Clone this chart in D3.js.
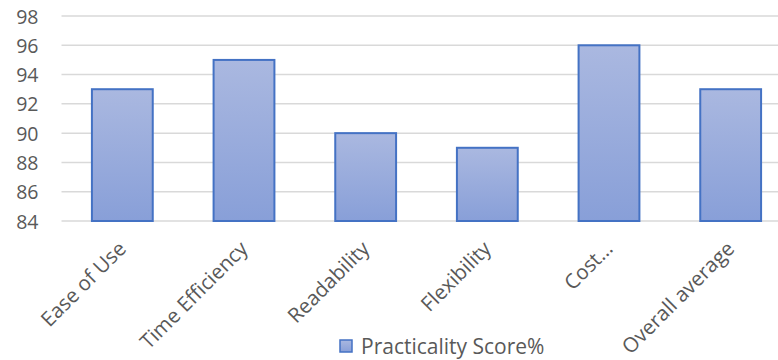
<!DOCTYPE html>
<html>
<head>
<meta charset="utf-8">
<script src="https://cdn.jsdelivr.net/npm/d3@7"></script>
<style>
  body { margin: 0; background: #fff; }
  svg text { font-family: "Open Sans", "Noto Sans", sans-serif; fill: #595959; }
</style>
</head>
<body>
<svg id="chart" width="778" height="360"></svg>
<script>
var categories = ["Ease of Use", "Time Efficiency", "Readability", "Flexibility", "Cost\u2026", "Overall average"];
var scores = [93, 95, 90, 89, 96, 93];
var yTicks = [84, 86, 88, 90, 92, 94, 96, 98];
var seriesName = "Practicality Score%";

var svg = d3.select("#chart"),
    width = +svg.attr("width"),
    height = +svg.attr("height");

var plotLeft = 61.5, plotRight = 791.5, plotTop = 16, plotBottom = 221;

var data = categories.map(function(c, i) { return { name: c, value: scores[i] }; });

var x = d3.scaleBand()
    .domain(categories)
    .range([plotLeft, plotRight])
    .paddingInner(0.5)
    .paddingOuter(0.25);

var y = d3.scaleLinear()
    .domain([84, 98])
    .range([plotBottom, plotTop]);

var defs = svg.append("defs");
var grad = defs.append("linearGradient")
    .attr("id", "barfill")
    .attr("x1", 0).attr("y1", 0).attr("x2", 0).attr("y2", 1);
grad.append("stop").attr("offset", "0%").attr("stop-color", "#aab8e0");
grad.append("stop").attr("offset", "100%").attr("stop-color", "#889fd8");

// gridlines
svg.append("g")
    .attr("class", "grid")
    .selectAll("line")
    .data(yTicks)
    .enter().append("line")
    .attr("x1", plotLeft)
    .attr("x2", width)
    .attr("y1", function(d) { return y(d); })
    .attr("y2", function(d) { return y(d); })
    .attr("stroke", "#d9d9d9")
    .attr("stroke-width", 1.5);

// y axis labels
var yAxis = d3.axisLeft(y).tickValues(yTicks).tickSize(0).tickPadding(0);
var yg = svg.append("g")
    .attr("transform", "translate(" + (plotLeft - 23) + ",0)")
    .call(yAxis);
yg.select(".domain").remove();
yg.selectAll("text")
    .style("font-size", "19.5px")
    .attr("fill", "#595959")
    .attr("dy", "0.36em");

// bars
svg.append("g")
    .attr("class", "bars")
    .selectAll("rect")
    .data(data)
    .enter().append("rect")
    .attr("x", function(d) { return x(d.name); })
    .attr("width", x.bandwidth())
    .attr("y", function(d) { return y(d.value); })
    .attr("height", function(d) { return y(84) - y(d.value); })
    .attr("fill", "url(#barfill)")
    .attr("stroke", "#4472c4")
    .attr("stroke-width", 2);

// x axis labels, rotated
svg.append("g")
    .attr("class", "xlabels")
    .selectAll("text")
    .data(categories)
    .enter().append("text")
    .attr("transform", function(d) {
        return "translate(" + (x(d) + x.bandwidth() / 2 + 5) + "," + (plotBottom + 29) + ") rotate(-45)";
    })
    .attr("text-anchor", "end")
    .style("font-size", "20.5px")
    .text(function(d) { return d; });

// legend
var legend = svg.append("g").attr("transform", "translate(340,340)");
legend.append("rect")
    .attr("width", 12).attr("height", 12)
    .attr("fill", "url(#barfill)")
    .attr("stroke", "#4472c4")
    .attr("stroke-width", 1.5);
legend.append("text")
    .attr("x", 21)
    .attr("y", 6)
    .attr("dy", "0.36em")
    .style("font-size", "21px")
    .text(seriesName);
</script>
</body>
</html>
